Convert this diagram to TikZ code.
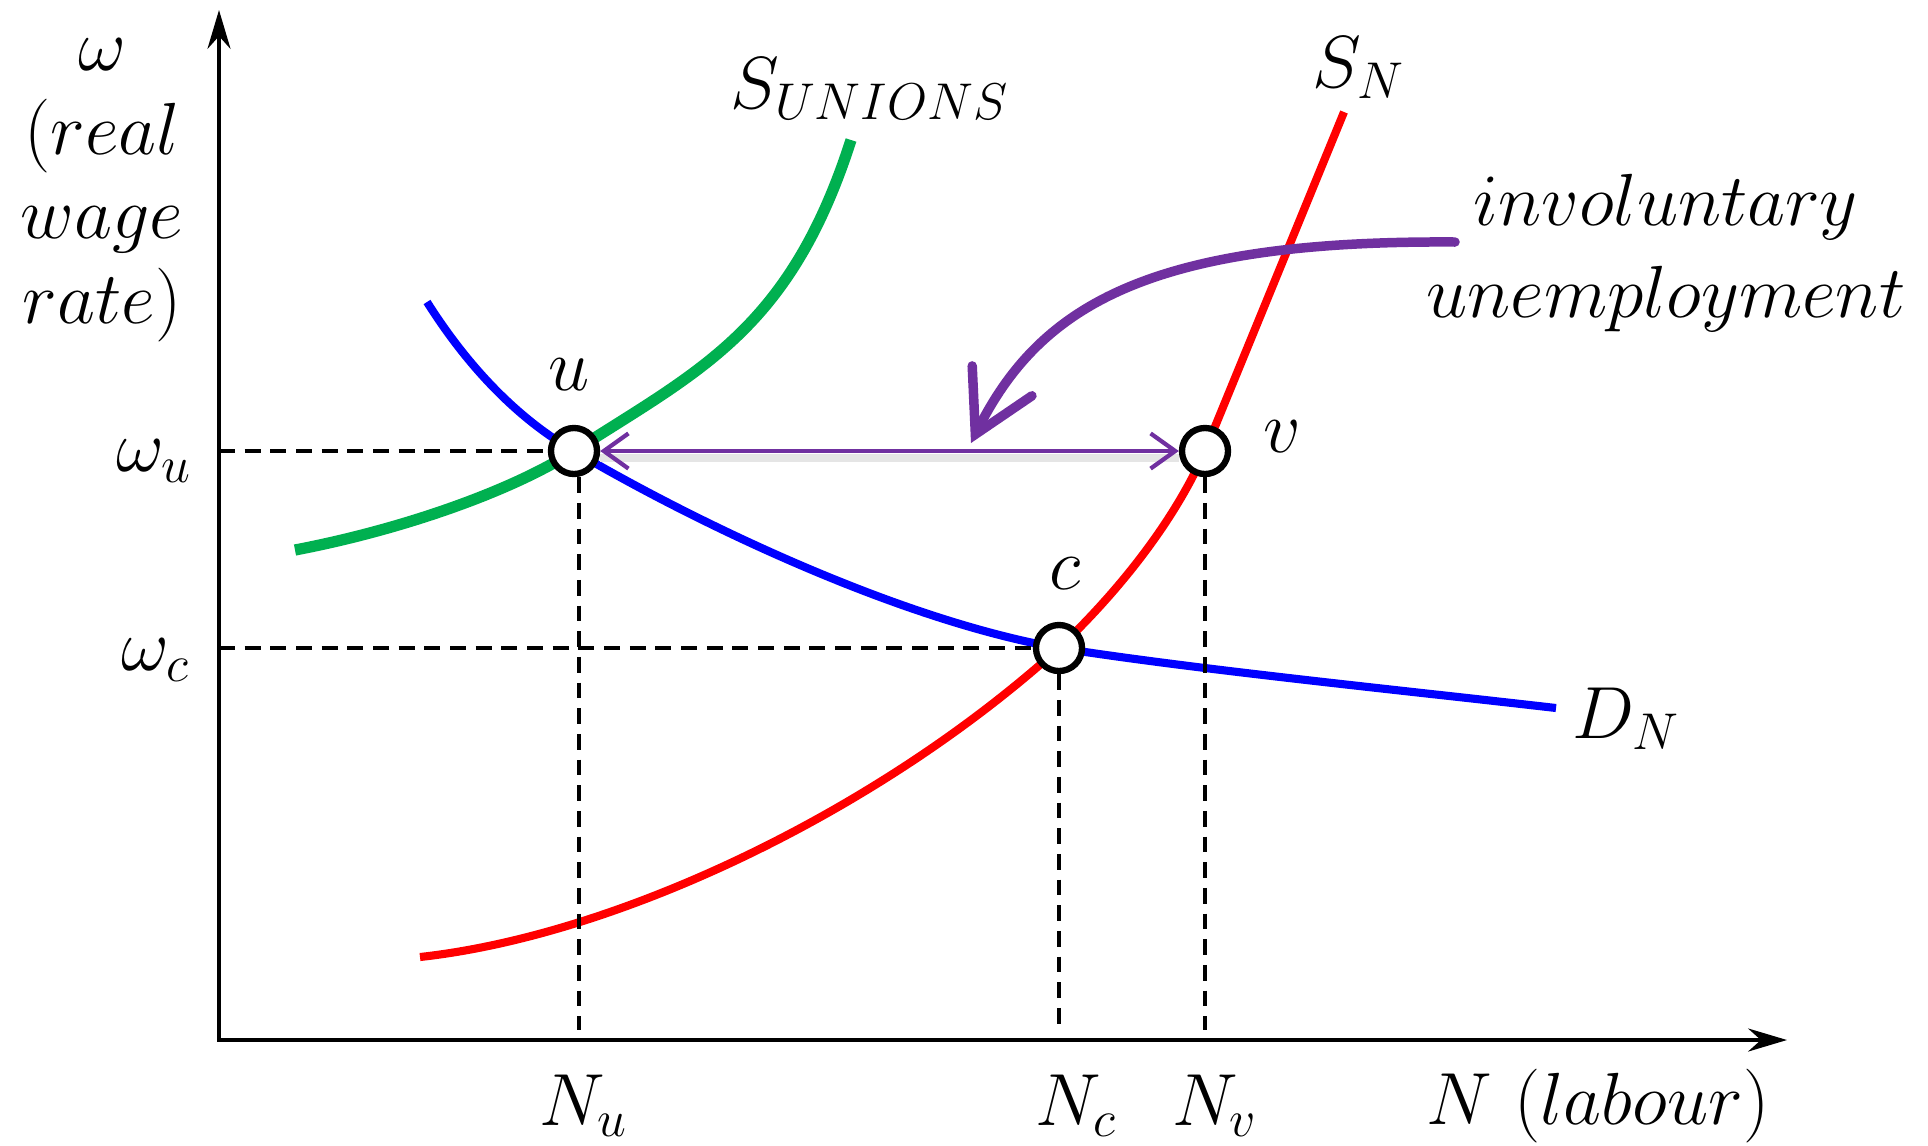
\RequirePackage{fix-cm}
\documentclass[tikz,border=0pt]{standalone}
\usetikzlibrary{arrows.meta}
\definecolor{unionsgreen}{RGB}{0,176,80}
\definecolor{unempviolet}{RGB}{112,48,160}

\begin{document}
\begin{tikzpicture}[
    x=0.01cm, y=-0.01cm,
    lbl/.style={font=\fontsize{21}{24}\selectfont, inner sep=0pt, align=center},
    eqpt/.style={circle, draw, line width=1.8pt, fill=white,
                 minimum size=0.46cm, inner sep=0pt},
    guide/.style={dash pattern=on 4.5pt off 2.8pt, line width=1pt},
    curve/.style={line width=2.3pt},
    axis/.style={line width=1.4pt, {Stealth[length=11pt,width=6.5pt]}-{Stealth[length=11pt,width=6.5pt]}}
  ]
  \useasboundingbox (0,0) rectangle (1928,1145);
  % --- axes ---
  \coordinate (O) at (219,1040);
  \coordinate (ytop) at (219,10);
  \coordinate (xend) at (1787,1040);
  \coordinate (foot) at (0,1030);
  \draw[axis] (ytop) -- (O) -- (xend);

  % --- curves ---
  \draw[curve, blue] (427,302) .. controls (470,370) and (520,420) .. (574,451)
    .. controls (700,525) and (900,620) .. (1059,648)
    .. controls (1200,670) and (1400,690) .. (1556,708);
  \draw[curve, unionsgreen, line width=3.2pt] (295,550) .. controls (400,530) and (510,492) .. (574,451)
    .. controls (700,370) and (790,330) .. (851,140);
  \draw[curve, red] (420,957) .. controls (620,935) and (880,810) .. (1059,648)
    .. controls (1120,590) and (1175,520) .. (1205,451) -- (1344,112);

  % --- equilibrium points ---
  \node[eqpt] (u) at (574,451) {};
  \node[eqpt] (v) at (1205,451) {};
  \node[eqpt] (c) at (1059,648) {};

  % guides
  \draw[guide] (O |- u) -- (u.west);
  \draw[guide] (O |- c) -- (c.west);
  \draw[guide] ([xshift=0.5mm]u.south) -- ([xshift=0.5mm]u.south |- foot);
  \draw[guide] (c.south) -- (c.south |- foot);
  \draw[guide] (v.south) -- (v.south |- foot);

  % u -- v gap
  \draw[black!10, line width=2.2pt] ([yshift=-0.7mm]u.east) -- ([yshift=-0.7mm]v.west);
  \draw[unempviolet, line width=1.2pt,
        {Straight Barb[length=7pt,width=10pt]}-{Straight Barb[length=7pt,width=10pt]}]
    (u.east) -- (v.west);
  \coordinate (ustart) at (1455,242);
  \coordinate (utip) at (971,443);
  \draw[unempviolet, line width=2.7pt, line cap=round,
        -{Straight Barb[length=17pt,width=19pt,line cap=round]}]
    (ustart) .. controls (1150,240) and (1040,305) .. (utip);

  % --- labels ---
  \node[lbl] (wlab) at (102,190) {$\omega$\\$(real$\\$wage$\\$rate)$};
  \node[lbl] (wu) at (154,461) {$\omega_u$};
  \node[lbl] (wc) at (156,660) {$\omega_c$};
  \node[lbl] (nu) at (584,1106) {$N_u$};
  \node[lbl] (nc) at (1076,1106) {$N_c$};
  \node[lbl] (nv) at (1215,1106) {$N_v$};
  \node[lbl] (nlab) at (1598,1106) {$N\ (labour)$};
  \node[lbl] (ulab) at (569,375) {$u$};
  \node[lbl] (vlab) at (1282,437) {$v$};
  \node[lbl] (clab) at (1065,574) {$c$};
  \node[lbl] (sunions) at (870,89) {$S_{UNIONS}$};
  \node[lbl] (sn) at (1359,68) {$S_N$};
  \node[lbl] (dn) at (1626,719) {$D_N$};
  \node[lbl] (invol) at (1666,207) {$involuntary$};
  \node[lbl] (unemp) at (1666,299) {$unemployment$};
\end{tikzpicture}
\end{document}
